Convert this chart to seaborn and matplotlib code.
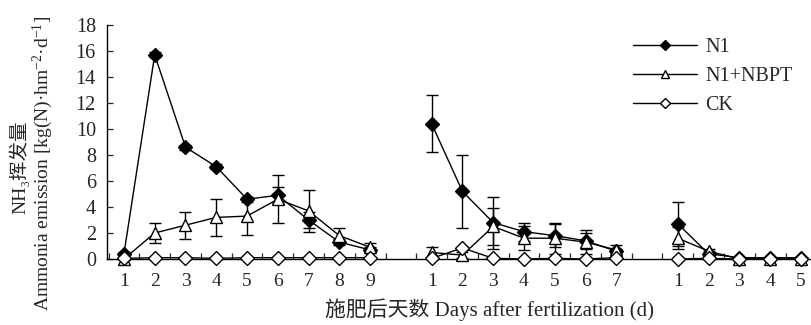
import numpy as np
import pandas as pd
import matplotlib
matplotlib.use("Agg")
import matplotlib.pyplot as plt
from matplotlib.lines import Line2D
import seaborn as sns

# --- data ---
group_days = [[1, 2, 3, 4, 5, 6, 7, 8, 9],
              [1, 2, 3, 4, 5, 6, 7],
              [1, 2, 3, 4, 5]]

n1_mean = [0.4, 15.7, 8.6, 7.1, 4.6, 4.9, 3.0, 1.3, 0.7,
           10.4, 5.2, 2.8, 2.1, 1.8, 1.4, 0.6,
           2.7, 0.4, 0.1, 0.1, 0.1]
n1_err = [0.1, 0.2, 0.2, 0.2, 0.2, 0.6, 0.6, 0.2, 0.2,
          2.2, 2.8, 2.0, 0.7, 0.9, 0.6, 0.2,
          1.7, 0.2, 0.05, 0.05, 0.05]

nbpt_mean = [0.0, 2.0, 2.6, 3.2, 3.3, 4.6, 3.7, 1.8, 0.9,
             0.5, 0.3, 2.5, 1.6, 1.6, 1.3, 0.7,
             1.6, 0.6, 0.0, 0.0, 0.0]
nbpt_err = [0.05, 0.75, 1.05, 1.4, 1.45, 1.85, 1.6, 0.6, 0.3,
            0.45, 0.2, 1.4, 0.9, 1.2, 0.95, 0.35,
            0.85, 0.2, 0.05, 0.05, 0.05]

ck_mean = [0.05, 0.1, 0.1, 0.05, 0.1, 0.1, 0.1, 0.1, 0.1,
           0.05, 0.85, 0.05, 0.0, 0.05, 0.0, 0.1,
           0.0, 0.05, 0.0, 0.0, 0.0]
ck_err = [0.05] * 21

treatments = ["N1", "N1+NBPT", "CK"]

# build long table; each fertilization round gets a block of slots plus a gap
rows = []
offset = 0
for g, days in enumerate(group_days):
    for d in days:
        rows.append({"group": g, "day": d, "pos": offset + d - 1})
    offset += len(days) + 1
base = pd.DataFrame(rows)

frames = []
for name, m, e in [("N1", n1_mean, n1_err), ("N1+NBPT", nbpt_mean, nbpt_err), ("CK", ck_mean, ck_err)]:
    f = base.copy()
    f["treatment"] = name
    f["value"] = m
    f["err"] = e
    frames.append(f)
df = pd.concat(frames, ignore_index=True)

sns.set_theme(style="ticks")
plt.rcParams["font.family"] = ["Liberation Serif", "Noto Sans CJK SC", "DejaVu Sans"]
plt.rcParams["mathtext.fontset"] = "custom"
plt.rcParams["mathtext.rm"] = "Liberation Serif"
plt.rcParams["mathtext.it"] = "Liberation Serif"

fig = plt.figure(figsize=(8.12, 3.25), dpi=100)
ax = fig.add_axes([0.1318, 0.2031, 0.8735, 0.72])

styles = {
    "N1": dict(marker="D", markersize=7, markerfacecolor="black", z=3),
    "N1+NBPT": dict(marker="^", markersize=9, markerfacecolor="white", z=4),
    "CK": dict(marker="D", markersize=7, markerfacecolor="white", z=5),
}

for name in treatments:
    st = styles[name]
    sub = df[df["treatment"] == name]
    for g, part in sub.groupby("group"):
        ax.errorbar(part["pos"], part["value"], yerr=part["err"], fmt="none",
                    ecolor="black", elinewidth=1.0, capsize=4.5, capthick=1.0,
                    zorder=st["z"] - 0.5, clip_on=False)
        sns.lineplot(data=part, x="pos", y="value", ax=ax, color="black",
                     linewidth=1.0, marker=st["marker"], markersize=st["markersize"],
                     markerfacecolor=st["markerfacecolor"], markeredgecolor="black",
                     markeredgewidth=1.0, zorder=st["z"], clip_on=False, legend=False)

ax.set_xlim(-0.55, 22.5)
ax.set_ylim(0, 18)
ax.set_yticks(np.arange(0, 19, 2))
ax.set_xticks(base["pos"])
ax.set_xticklabels(base["day"])
ax.set_xticks(np.arange(-0.5, 23, 1.0), minor=True)
ax.tick_params(axis="x", which="major", length=0, pad=10, labelsize=14)
ax.tick_params(axis="x", which="minor", direction="in", length=4, width=0.9)
ax.tick_params(axis="y", direction="in", length=4, width=0.9, pad=8, labelsize=14.5)
for s in ["top", "right"]:
    ax.spines[s].set_visible(False)
for s in ["left", "bottom"]:
    ax.spines[s].set_linewidth(1.0)
    ax.spines[s].set_color("black")
ax.set_xlabel("")
ax.set_ylabel("")

fig.text(490 / 812, 1 - 310 / 325, "施肥后天数 Days after fertilization (d)",
         ha="center", va="center", fontsize=15)
fig.text(19 / 812, 1 - 167 / 325, "NH₃挥发量", rotation=90,
         ha="center", va="center", fontsize=14)
fig.text(43 / 812, 1 - 163 / 325, "Ammonia emission [kg(N)·hm$^{-2}$·d$^{-1}$]",
         rotation=90, ha="center", va="center", fontsize=14)

handles = [
    Line2D([], [], color="black", lw=1.0, marker="D", markersize=5,
           markerfacecolor="black", markeredgecolor="black"),
    Line2D([], [], color="black", lw=1.0, marker="^", markersize=6,
           markerfacecolor="white", markeredgecolor="black"),
    Line2D([], [], color="black", lw=1.0, marker="D", markersize=5,
           markerfacecolor="white", markeredgecolor="black"),
]
fig.legend(handles, treatments, loc="upper left",
           bbox_to_anchor=(633 / 812, 1 - 38 / 325), frameon=False,
           fontsize=14.5, handlelength=3.2, handletextpad=0.4,
           labelspacing=0.5, borderpad=0, borderaxespad=0)

fig.savefig("out.png", dpi=100)
